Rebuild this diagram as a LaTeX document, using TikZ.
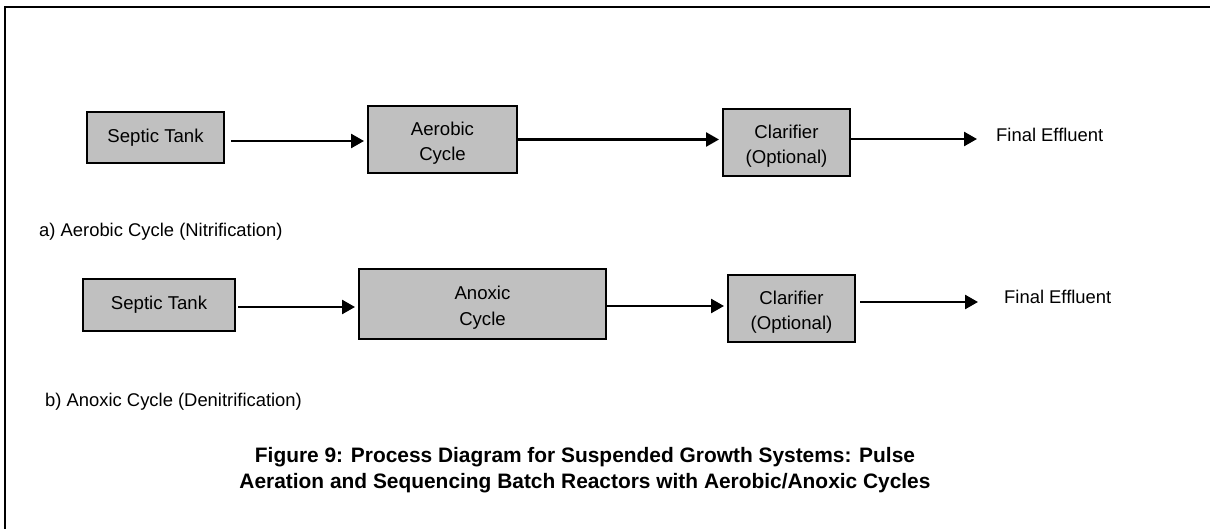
\documentclass[tikz,border=0pt]{standalone}
\usepackage{fontspec}
\setmainfont{Liberation Sans}
\usetikzlibrary{arrows.meta}
\newcommand{\twolines}[2]{\raisebox{-3.5pt}[\height][\depth]{\begin{tabular}{@{}c@{}}#1\\#2\end{tabular}}}
\begin{document}
\begin{tikzpicture}[x=1pt,y=-1pt,
  box/.style={draw=black,line width=2pt,fill=boxgray,inner sep=0pt,align=center,
    font=\fontsize{18.6}{25}\selectfont},
  lbl/.style={inner sep=0pt,anchor=west,font=\fontsize{18.4}{22}\selectfont},
  arr/.style={line width=2.6pt,-{Triangle[length=13pt,width=14pt]}}]
\definecolor{boxgray}{RGB}{192,192,192}
\useasboundingbox (0,0) rectangle (1210,529);
\draw[line width=1.8pt] (5,529) -- (5,7) -- (1210,7);
% row a
\node[box,minimum width=137pt,minimum height=51pt] (s1) at (155.5,137.5) {Septic Tank};
\node[box,minimum width=149pt,minimum height=67pt] (a1) at (442.5,139.5) {\twolines{Aerobic}{Cycle}};
\node[box,minimum width=127pt,minimum height=67pt] (c1) at (786.5,142.5) {\twolines{Clarifier}{(Optional)}};
\node[lbl] (f1) at (996,135) {Final Effluent};
\draw[arr,shorten <=6pt,shorten >=3pt] ([yshift=-3.5pt]s1.east) -- ([yshift=-3.5pt]s1.east -| a1.west);
\draw[arr,shorten >=3pt] (a1.east) -- (a1.east -| c1.west);
\draw[arr,shorten >=19pt] ([yshift=3.5pt]c1.east) -- ([yshift=3.5pt]c1.east -| f1.west);
\node[lbl] (la) at (39,232) {a) Aerobic Cycle (Nitrification)};
% row b
\node[box,minimum width=152pt,minimum height=52pt] (s2) at (159,305) {Septic Tank};
\node[box,minimum width=247pt,minimum height=70pt] (a2) at (482.5,304) {\twolines{Anoxic}{Cycle}};
\node[box,minimum width=127pt,minimum height=67pt] (c2) at (791.5,308.5) {\twolines{Clarifier}{(Optional)}};
\node[lbl] (f2) at (1004,297) {Final Effluent};
\draw[arr,shorten <=2pt,shorten >=3pt] ([yshift=-2pt]s2.east) -- ([yshift=-2pt]s2.east -| a2.west);
\draw[arr,shorten >=3pt] ([yshift=-2pt]a2.east) -- ([yshift=-2pt]a2.east -| c2.west);
\draw[arr,shorten <=4pt,shorten >=26pt] ([yshift=6.5pt]c2.east) -- ([yshift=6.5pt]c2.east -| f2.west);
\node[lbl] (lb) at (45,402) {b) Anoxic Cycle (Denitrification)};
% caption
\node[inner sep=0pt,align=center,font=\bfseries\fontsize{20.9}{26}\selectfont] (cap) at (585,470)
  {Figure 9: Process Diagram for Suspended Growth Systems: Pulse\\Aeration and Sequencing Batch Reactors with Aerobic/Anoxic Cycles};
\end{tikzpicture}
\end{document}
